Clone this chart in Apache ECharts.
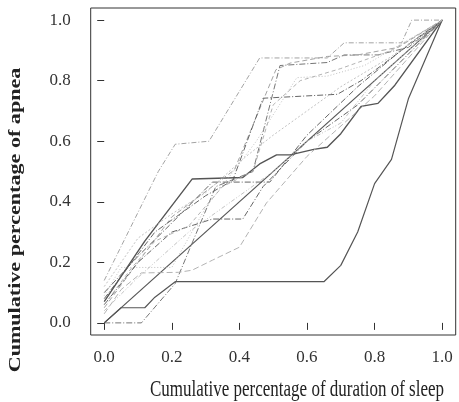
<!DOCTYPE html>
<html>
<head>
<meta charset="utf-8">
<script src="https://cdn.jsdelivr.net/npm/echarts@6/dist/echarts.min.js"></script>
<style>html,body{margin:0;padding:0;background:#fff;}#c{width:459px;height:402px;}</style>
</head>
<body>
<div id="c"></div>
<script>
const xTicks = [0, 0.2, 0.4, 0.6, 0.8, 1.0];
const yTicks = [0, 0.2, 0.4, 0.6, 0.8, 1.0];
const xTitle = 'Cumulative percentage of duration of sleep';
const yTitle = 'Cumulative percentage of apnea';

// each subject: cumulative % of sleep duration (x) vs cumulative % of apnea (y)
const s01 = [[0,0],[1,1]];
const s02 = [[0,0],[0.05,0.05],[0.12,0.05],[0.15,0.085],[0.21,0.136],[0.65,0.136],[0.7,0.19],[0.75,0.3],[0.8,0.46],[0.85,0.54],[0.9,0.74],[1,1]];
const s03 = [[0,0.07],[0.12,0.27],[0.26,0.475],[0.41,0.48],[0.46,0.525],[0.51,0.555],[0.55,0.555],[0.62,0.573],[0.66,0.58],[0.7,0.625],[0.76,0.715],[0.81,0.725],[0.86,0.785],[1,1]];
const s04 = [[0,0.14],[0.16,0.5],[0.21,0.59],[0.31,0.6],[0.46,0.875],[0.66,0.875],[0.71,0.925],[0.88,0.925],[0.91,1],[1,1]];
const s05 = [[0,0],[0.11,0],[0.21,0.13],[0.33,0.45],[0.44,0.5],[0.52,0.85],[0.66,0.86],[0.71,0.885],[0.81,0.885],[0.9,0.91],[1,1]];
const s06 = [[0,0.05],[0.1,0.2],[0.2,0.35],[0.385,0.505],[0.508,0.836],[0.55,0.858],[0.66,0.88],[0.75,0.885],[0.87,0.91],[1,1]];
const s07 = [[0,0.08],[0.15,0.3],[0.3,0.42],[0.38,0.47],[0.47,0.742],[0.69,0.755],[0.76,0.8],[1,1]];
const s08 = [[0,0.09],[0.05,0.183],[0.2,0.183],[0.3,0.38],[0.45,0.6],[0.57,0.81],[0.66,0.815],[0.77,0.85],[1,1]];
const s09 = [[0,0.03],[0.05,0.11],[0.11,0.165],[0.22,0.167],[0.26,0.174],[0.32,0.207],[0.4,0.25],[0.48,0.396],[0.6,0.55],[0.8,0.75],[1,1]];
const s10 = [[0,0.06],[0.1,0.2],[0.2,0.3],[0.32,0.343],[0.41,0.343],[0.47,0.45],[0.6,0.6],[0.75,0.72],[1,1]];
const s11 = [[0,0.1],[0.1,0.22],[0.2,0.33],[0.32,0.465],[0.49,0.465],[0.6,0.62],[0.75,0.78],[0.9,0.92],[1,1]];
const s12 = [[0,0.04],[0.1,0.15],[0.25,0.3],[0.4,0.42],[0.5,0.5],[0.6,0.6],[0.7,0.66],[0.8,0.8],[1,1]];
const s13 = [[0,0.06],[0.08,0.18],[0.15,0.27],[0.25,0.32],[0.35,0.45],[0.44,0.5],[0.5,0.72],[0.58,0.8],[0.7,0.84],[0.85,0.9],[1,1]];
const s14 = [[0,0.12],[0.1,0.28],[0.2,0.36],[0.3,0.43],[0.42,0.55],[0.5,0.62],[0.6,0.7],[0.7,0.78],[0.85,0.88],[1,1]];

const subjects = [s01,s02,s03,s04,s05,s06,s07,s08,s09,s10,s11,s12,s13,s14];
const colors = ['#555','#555','#555','#999','#666','#999','#555','#bbb','#aaa','#555','#555','#bbb','#aaa','#bbb'];
const widths = [1.2,1.2,1.4,0.9,0.9,0.9,0.9,0.9,0.9,0.9,0.9,0.9,0.9,0.9];
const dashes = ['solid','solid','solid',[5,2,1,2],[6,2,1,2],[5,3],[6,2,1,2],[1,2],[6,3],[6,2,1,2],[6,2,1,2],[4,2,1,2,1,2],[4,3],[2,2]];

const series = subjects.map((d,i)=>({
  type:'line', data:d, showSymbol:false, silent:true, animation:false,
  lineStyle:{color:colors[i], width:widths[i], type:dashes[i]}
}));

const chart = echarts.init(document.getElementById('c'), null, {renderer:'canvas'});
const font = '"Liberation Serif", "Times New Roman", serif';
chart.setOption({
  backgroundColor:'#fff',
  animation:false,
  grid:{left:90.7, top:8, width:365, height:327, show:true, borderColor:'#333', borderWidth:1, backgroundColor:'transparent'},
  xAxis:{type:'value', min:-0.04, max:1.04,
    axisLine:{show:false}, splitLine:{show:false},
    axisTick:{show:true, length:7, lineStyle:{color:'#333'}, customValues:xTicks},
    axisLabel:{customValues:xTicks, formatter:v=>v.toFixed(1), margin:14, fontFamily:font, fontSize:17, color:'#333'}},
  yAxis:{type:'value', min:-0.04, max:1.04,
    axisLine:{show:false}, splitLine:{show:false},
    axisTick:{show:true, length:7, lineStyle:{color:'#333'}, customValues:yTicks},
    axisLabel:{customValues:yTicks, formatter:v=>v.toFixed(1), margin:20, fontFamily:font, fontSize:17, color:'#333'}},
  graphic:[
    {type:'text', x:297, y:390, scaleY:1.3, style:{text:xTitle, font:'17px '+font, fill:'#222', textAlign:'center', textVerticalAlign:'middle'}},
    {type:'text', x:16, y:220, rotation:Math.PI/2, scaleX:1.3, style:{text:yTitle, font:'bold 17px '+font, fill:'#222', textAlign:'center', textVerticalAlign:'middle'}}
  ],
  series:series
});
</script>
</body>
</html>
